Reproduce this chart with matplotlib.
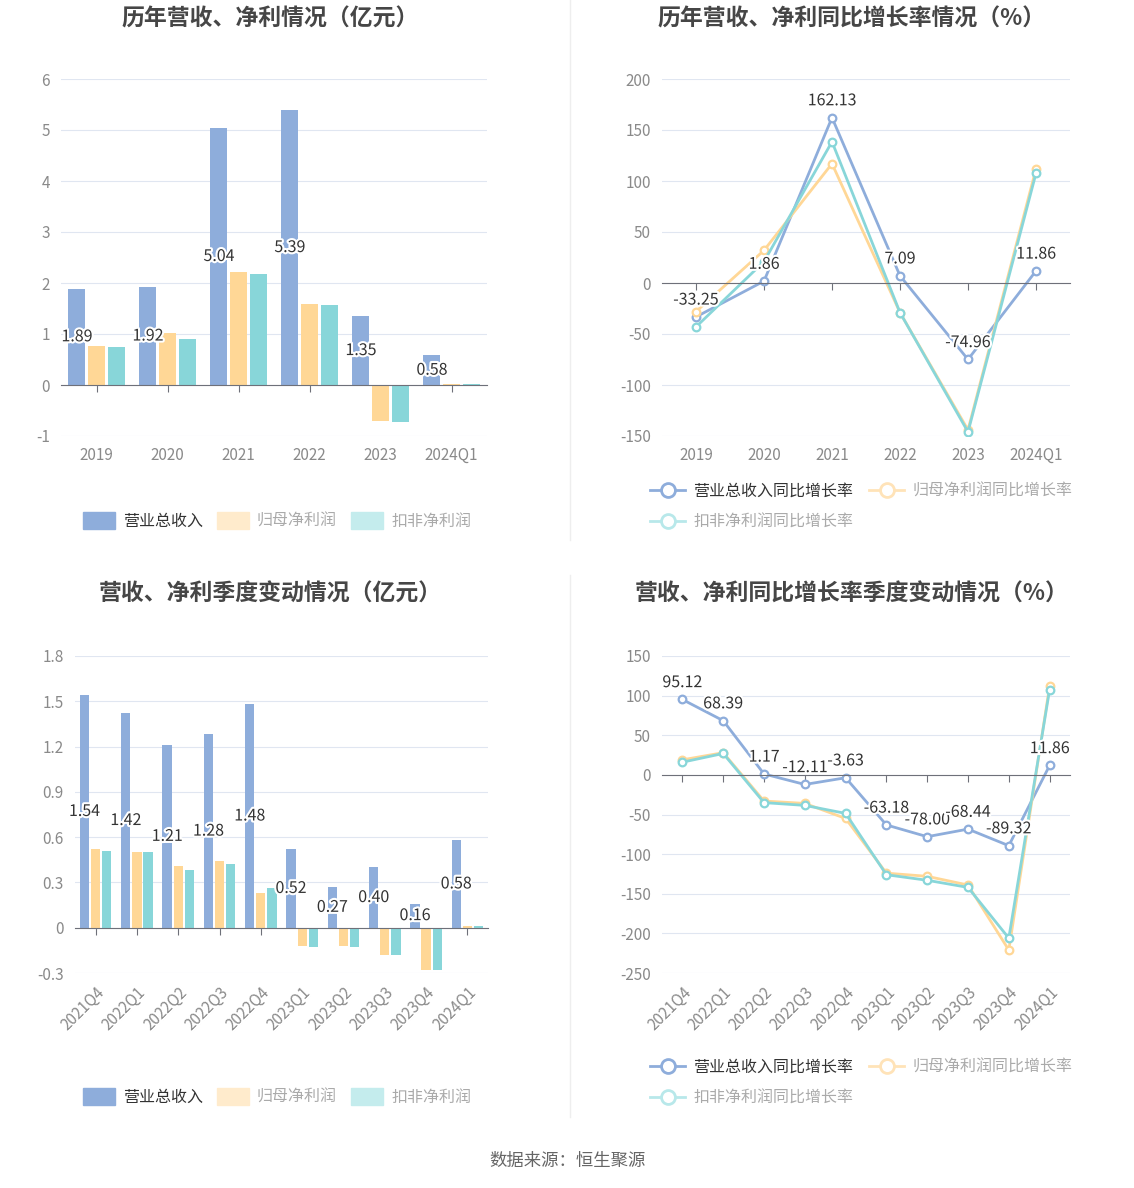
import numpy as np
import matplotlib.pyplot as plt
import matplotlib.patheffects as pe
from matplotlib.lines import Line2D
from matplotlib.patches import Patch

plt.rcParams['font.family'] = ['Noto Sans CJK SC', 'DejaVu Sans']

# ---- data ----
years = ['2019', '2020', '2021', '2022', '2023', '2024Q1']
year_revenue = [1.89, 1.92, 5.04, 5.39, 1.35, 0.58]
year_profit = [0.76, 1.02, 2.21, 1.58, -0.70, 0.01]
year_deducted = [0.75, 0.91, 2.17, 1.56, -0.73, 0.01]

year_revenue_yoy = [-33.25, 1.86, 162.13, 7.09, -74.96, 11.86]
year_profit_yoy = [-28, 32, 117, -29, -144, 112]
year_deducted_yoy = [-43, 21, 138.5, -29, -146, 107.6]

quarters = ['2021Q4', '2022Q1', '2022Q2', '2022Q3', '2022Q4',
            '2023Q1', '2023Q2', '2023Q3', '2023Q4', '2024Q1']
q_revenue = [1.54, 1.42, 1.21, 1.28, 1.48, 0.52, 0.27, 0.40, 0.16, 0.58]
q_profit = [0.52, 0.50, 0.41, 0.44, 0.23, -0.12, -0.12, -0.18, -0.28, 0.01]
q_deducted = [0.51, 0.50, 0.38, 0.42, 0.26, -0.13, -0.13, -0.18, -0.28, 0.01]

q_revenue_yoy = [95.12, 68.39, 1.17, -12.11, -3.63, -63.18, -78.00, -68.44, -89.32, 11.86]
q_profit_yoy = [19, 28, -33, -36, -55, -124, -128, -139, -221, 112]
q_deducted_yoy = [16, 27, -35, -38.5, -48.6, -126, -133, -142, -206, 107.6]

bar_names = ['营业总收入', '归母净利润', '扣非净利润']
line_names = ['营业总收入同比增长率', '归母净利润同比增长率', '扣非净利润同比增长率']

BLUE, ORANGE, TEAL = '#8EADDB', '#FFD796', '#88D6D9'
ORANGE_L, TEAL_L = '#FFEBCC', '#C4ECED'
GRID, AXIS, TICK = '#E0E6F1', '#6E7079', '#8A8A8A'
W, H = 1134, 1188

halo = [pe.withStroke(linewidth=3, foreground='white')]


def style_axis(ax, cats, yticks, rotate=False):
    n = len(cats)
    ax.set_xlim(-0.5, n - 0.5)
    ax.set_ylim(yticks[0], yticks[-1])
    ax.set_yticks(yticks)
    ax.set_yticklabels([f'{t:g}' for t in yticks])
    ax.grid(axis='y', color=GRID, lw=0.8)
    ax.set_axisbelow(True)
    for s in ax.spines.values():
        s.set_visible(False)
    ax.spines['bottom'].set_visible(True)
    ax.spines['bottom'].set_position(('data', 0))
    ax.spines['bottom'].set_color(AXIS)
    ax.spines['bottom'].set_zorder(4)
    ax.set_xticks(range(n))
    ax.tick_params(axis='x', direction='out', length=5, color=AXIS, labelbottom=False)
    ax.tick_params(axis='y', length=0, labelcolor=TICK, labelsize=11, pad=8)
    sec = ax.secondary_xaxis('bottom')
    sec.set_xticks(range(n), labels=cats)
    sec.tick_params(length=0, labelcolor=TICK, labelsize=11, pad=8)
    sec.spines['bottom'].set_visible(False)
    if rotate:
        for lab in sec.get_xticklabels():
            lab.set_rotation(45)
            lab.set_ha('right')
            lab.set_rotation_mode('anchor')


def bar_panel(ax, cats, rev, prof, ded, width, off, yticks, rotate=False):
    x = np.arange(len(cats))
    ax.bar(x - off, rev, width, color=BLUE, zorder=3)
    ax.bar(x, prof, width, color=ORANGE, zorder=3)
    ax.bar(x + off, ded, width, color=TEAL, zorder=3)
    for xi, v in zip(x, rev):
        ax.text(xi - off, v / 2, f'{v:.2f}', ha='center', va='center', fontsize=11.5,
                color='#333333', path_effects=halo, zorder=6)
    style_axis(ax, cats, yticks, rotate)


def line_panel(ax, cats, rev, prof, ded, yticks, rotate=False):
    x = np.arange(len(cats))
    for vals, c in [(rev, BLUE), (prof, ORANGE), (ded, TEAL)]:
        ax.plot(x, vals, color=c, lw=2, marker='o', ms=5.5, mfc='white',
                mec=c, mew=1.6, zorder=3)
    for xi, v in zip(x, rev):
        ax.annotate(f'{v:.2f}', (xi, v), xytext=(0, 6), textcoords='offset points',
                    ha='center', va='bottom', fontsize=11.5, color='#333333',
                    path_effects=halo, zorder=6)
    style_axis(ax, cats, yticks, rotate)


fig = plt.figure(figsize=(W / 100, H / 100), dpi=100)

ax1 = fig.add_axes([61 / W, 1 - 436 / H, 426 / W, 357 / H])
ax2 = fig.add_axes([662 / W, 1 - 436 / H, 408 / W, 357 / H])
ax3 = fig.add_axes([75 / W, 1 - 973 / H, 413 / W, 317 / H])
ax4 = fig.add_axes([662 / W, 1 - 973 / H, 408 / W, 317 / H])

bar_panel(ax1, years, year_revenue, year_profit, year_deducted, 0.24, 0.275,
          [-1, 0, 1, 2, 3, 4, 5, 6])
line_panel(ax2, years, year_revenue_yoy, year_profit_yoy, year_deducted_yoy,
           [-150, -100, -50, 0, 50, 100, 150, 200])
bar_panel(ax3, quarters, q_revenue, q_profit, q_deducted, 0.225, 0.27,
          [-0.3, 0, 0.3, 0.6, 0.9, 1.2, 1.5, 1.8], rotate=True)
line_panel(ax4, quarters, q_revenue_yoy, q_profit_yoy, q_deducted_yoy,
           [-250, -200, -150, -100, -50, 0, 50, 100, 150], rotate=True)

# titles
title_kw = dict(ha='center', va='center', fontsize=16.5, fontweight='bold', color='#464646')
fig.text(270 / W, 1 - 19 / H, '历年营收、净利情况（亿元）', **title_kw)
fig.text(852 / W, 1 - 19 / H, '历年营收、净利同比增长率情况（%）', **title_kw)
fig.text(270 / W, 1 - 594 / H, '营收、净利季度变动情况（亿元）', **title_kw)
fig.text(852 / W, 1 - 594 / H, '营收、净利同比增长率季度变动情况（%）', **title_kw)

# legends
label_colors = ['#333333', '#AAAAAA', '#AAAAAA']
bar_handles = [Patch(color=BLUE), Patch(color=ORANGE_L), Patch(color=TEAL_L)]
line_handles = [Line2D([], [], color=c, lw=2, marker='o', ms=10, mfc='white', mec=c, mew=2)
                for c in [BLUE, '#FFE3B8', '#B8E8EA']]

for yc in [521, 1097]:
    leg = fig.legend(bar_handles, bar_names, loc='center', bbox_to_anchor=(277 / W, 1 - yc / H),
                     ncol=3, frameon=False, fontsize=11.5, handlelength=2.0, handleheight=1.2,
                     handletextpad=0.5, columnspacing=0.9, borderpad=0)
    for t, c in zip(leg.get_texts(), label_colors):
        t.set_color(c)

# legend fills column-wise: blue, teal in first column, orange in second
order = [0, 2, 1]
for yc in [490, 1066]:
    leg = fig.legend([line_handles[i] for i in order], [line_names[i] for i in order],
                     loc='upper left', bbox_to_anchor=(650 / W, 1 - (yc - 7) / H),
                     ncol=2, frameon=False, fontsize=11.5, handlelength=2.2,
                     handletextpad=0.5, columnspacing=1.0, labelspacing=0.85,
                     borderpad=0, borderaxespad=0)
    for t, i in zip(leg.get_texts(), order):
        t.set_color(label_colors[i])

# dividers and footer
fig.add_artist(Line2D([570 / W, 570 / W], [1, 1 - 540 / H], color='#EEEEEE', lw=1,
                      transform=fig.transFigure))
fig.add_artist(Line2D([570 / W, 570 / W], [1 - 575 / H, 1 - 1117 / H], color='#EEEEEE', lw=1,
                      transform=fig.transFigure))
fig.text(567 / W, 1 - 1161 / H, '数据来源：恒生聚源', ha='center', va='center',
         fontsize=12.5, color='#666666')

fig.savefig('out.png', dpi=100, facecolor='white')
